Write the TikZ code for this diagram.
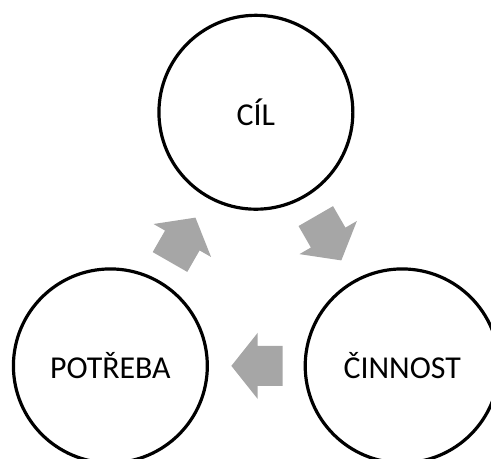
\documentclass[tikz,border=0pt]{standalone}
\usepackage{fontspec}
\setmainfont{Carlito}
\usetikzlibrary{shapes.arrows}
\definecolor{cyclegray}{HTML}{A6A6A6}

\begin{document}
\begin{tikzpicture}[font=\fontsize{24}{28}\selectfont,
  stage/.style={circle, draw, line width=2.4pt, minimum size=5.13cm, inner sep=0pt},
  flow/.style={single arrow, fill=cyclegray, draw=none, inner xsep=0.46cm, inner ysep=0.52cm,
    single arrow head extend=0.35cm, single arrow tip angle=103,
    sloped, allow upside down, pos=0.22, anchor=tail}]
  \useasboundingbox (0,0) rectangle (12.99,12.12);
  \clip (0,0) rectangle (12.99,12.12);
  \node[stage] (cil) at (6.77,9.15) {CÍL};
  \node[stage] (potreba) at (2.92,2.44) {POTŘEBA};
  \node[stage] (cinnost) at (10.64,2.44) {ČINNOST};
  % the cycle
  \path (potreba) -- node[flow]{} (cil);
  \path (cil) -- node[flow]{} (cinnost);
  \path (cinnost) -- node[flow]{} (potreba);
\end{tikzpicture}
\end{document}
